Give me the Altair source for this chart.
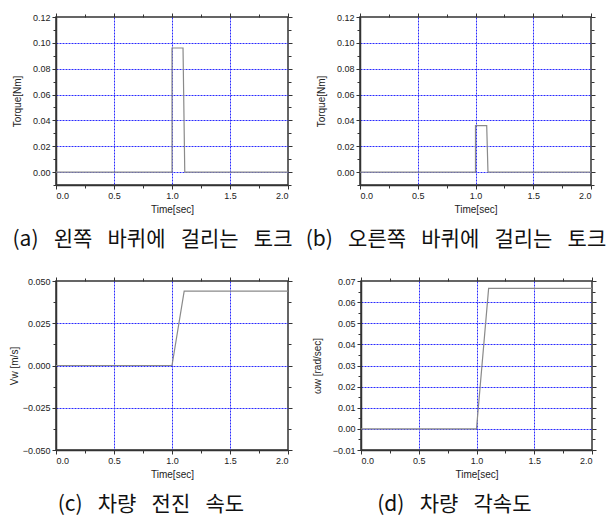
import altair as alt
import pandas as pd

# ---- data ----
t_left = [0.0, 1.0, 1.0, 1.095, 1.11, 2.0]
torque_left = [0.0, 0.0, 0.096, 0.096, 0.0, 0.0]

t_right = [0.0, 1.0, 1.0, 1.097, 1.108, 2.0]
torque_right = [0.0, 0.0, 0.036, 0.036, 0.0, 0.0]

t_vel = [0.0, 1.0, 1.105, 2.0]
vel = [0.0, 0.0, 0.044, 0.044]

t_ang = [0.0, 1.0, 1.105, 2.0]
ang = [0.0, 0.0, 0.0665, 0.0665]

x_ticks = [0.0, 0.25, 0.5, 0.75, 1.0, 1.25, 1.5, 1.75, 2.0]
torque_ticks = [-0.01, 0.0, 0.01, 0.02, 0.03, 0.04, 0.05, 0.06, 0.07, 0.08, 0.09, 0.10, 0.11, 0.12]
vel_ticks = [-0.05, -0.0375, -0.025, -0.0125, 0.0, 0.0125, 0.025, 0.0375, 0.05]
ang_ticks = [-0.01, -0.005, 0.0, 0.005, 0.01, 0.015, 0.02, 0.025, 0.03, 0.035,
             0.04, 0.045, 0.05, 0.055, 0.06, 0.065, 0.07]

SP = "\u2002 "
captions = [f"(a){SP}왼쪽{SP}바퀴에{SP}걸리는{SP}토크",
            f"(b){SP}오른쪽{SP}바퀴에{SP}걸리는{SP}토크",
            f"(c){SP}차량{SP}전진{SP}속도",
            f"(d){SP}차량{SP}각속도"]

GRID = "#2a2aff"
FRAME = "#333333"


def major_test(mult):
    return f"abs(datum.value*{mult} - round(datum.value*{mult})) < 1e-6"


def inner_test(lo, hi):
    return f"datum.value > {lo} + 1e-6 && datum.value < {hi} - 1e-6"


def panel(t, v, ydom, yticks, ymult, yfmt, ytitle, caption, w=232, h=168, tpad=10):
    df = pd.DataFrame({"t": t, "v": v})
    xm = major_test(2)
    ym = major_test(ymult)
    xg = f"({xm}) && ({inner_test(0, 2)})"
    yg = f"({ym}) && ({inner_test(ydom[0], ydom[1])})"
    xs = alt.Scale(domain=[0, 2], nice=False, zero=False)
    ys = alt.Scale(domain=ydom, nice=False, zero=False)
    xtick = {"condition": {"test": xm, "value": 4}, "value": 3}
    ytick = {"condition": {"test": ym, "value": 4}, "value": 3}
    x = alt.X(
        "t:Q", scale=xs,
        axis=alt.Axis(
            values=x_ticks,
            labelExpr=f"({xm}) ? format(datum.value, '.1f') : ''",
            tickSize=xtick,
            gridOpacity={"condition": {"test": xg, "value": 1}, "value": 0},
            title="Time[sec]",
        ),
    )
    y = alt.Y(
        "v:Q", scale=ys,
        axis=alt.Axis(
            values=yticks,
            labelExpr=f"({ym}) ? format(datum.value, '{yfmt}') : ''",
            tickSize=ytick,
            gridOpacity={"condition": {"test": yg, "value": 1}, "value": 0},
            title=ytitle,
            titlePadding=tpad,
        ),
    )
    base = alt.Chart(df)
    line = base.mark_line(color="#8a8a8a", strokeWidth=1.2, clip=True).encode(x=x, y=y)
    # top / right frame ticks (no labels)
    frame_ticks = base.mark_line(opacity=0).encode(
        x=alt.X("t:Q", scale=xs, axis=alt.Axis(orient="top", values=x_ticks, labels=False,
                                               title=None, grid=False, domain=False, tickSize=xtick)),
        y=alt.Y("v:Q", scale=ys, axis=alt.Axis(orient="right", values=yticks, labels=False,
                                               title=None, grid=False, domain=False, tickSize=ytick)),
    )
    return (
        alt.layer(line, frame_ticks)
        .resolve_axis(x="independent", y="independent")
        .properties(
            width=w,
            height=h,
            title=alt.TitleParams(
                caption,
                orient="bottom",
                anchor="middle",
                frame="bounds",
                font="Noto Sans CJK KR",
                fontSize=21,
                fontWeight="normal",
                color="#111111",
                offset=15,
            ),
        )
    )


a = panel(t_left, torque_left, [-0.01, 0.12], torque_ticks, 50, ".2f", "Torque[Nm]", captions[0])
b = panel(t_right, torque_right, [-0.01, 0.12], torque_ticks, 50, ".2f", "Torque[Nm]", captions[1], w=231)
c = panel(t_vel, vel, [-0.05, 0.05], vel_ticks, 40, ".3f", "Vw [m/s]", captions[2], h=169, tpad=3)
d = panel(t_ang, ang, [-0.01, 0.07], ang_ticks, 100, ".2f", "ωw [rad/sec]", captions[3], w=231, h=169)

chart = (
    alt.vconcat(
        alt.hconcat(a, b, spacing=72, bounds="flush"),
        alt.hconcat(c, d, spacing=73, bounds="flush"),
        spacing=24,
    )
    .properties(padding={"left": 0, "top": 3, "right": 0, "bottom": 0})
    .configure_view(stroke=FRAME, strokeWidth=1.5)
    .configure_axis(
        labelFont="Liberation Sans",
        labelFontSize=9,
        labelColor="#222222",
        titleFont="Liberation Sans",
        titleFontSize=10,
        titleFontWeight="normal",
        titleColor="#222222",
        domainColor=FRAME,
        domainWidth=1.5,
        tickColor=FRAME,
        tickWidth=1,
        gridColor=GRID,
        gridDash=[2, 1],
        gridWidth=1,
        labelPadding=2,
    )
)

chart.save("out.html", embed_options={"renderer": "svg", "actions": False})
